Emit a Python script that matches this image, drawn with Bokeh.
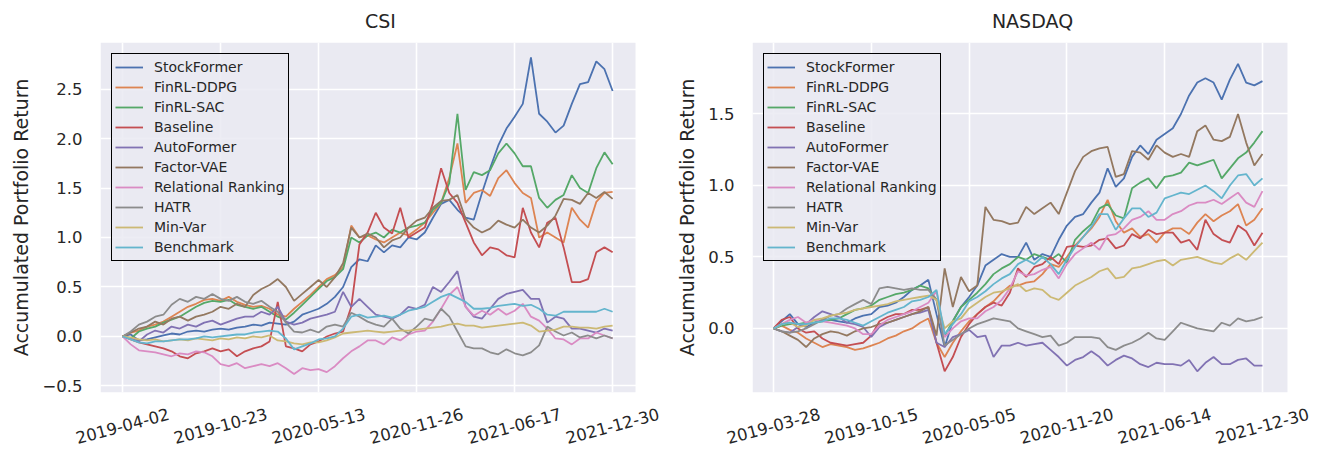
import math
from bokeh.plotting import figure
from bokeh.layouts import row
from bokeh.models import Range1d, FixedTicker, PrintfTickFormatter, BoxAnnotation
from bokeh.embed import file_html
from bokeh.resources import INLINE

# ---------------- data ----------------
steps = list(range(61))  # trading-day index (sampled), ticks every 12 steps

series_names = ["StockFormer", "FinRL-DDPG", "FinRL-SAC", "Baseline", "AutoFormer",
                "Factor-VAE", "Relational Ranking", "HATR", "Min-Var", "Benchmark"]
colors = ["#4C72B0", "#DD8452", "#55A868", "#C44E52", "#8172B3",
          "#937860", "#DA8BC3", "#8C8C8C", "#CCB974", "#64B5CD"]

csi_tick_labels = ["2019-04-02", "2019-10-23", "2020-05-13", "2020-11-26", "2021-06-17", "2021-12-30"]
nasdaq_tick_labels = ["2019-03-28", "2019-10-15", "2020-05-05", "2020-11-20", "2021-06-14", "2021-12-30"]

csi_stockformer = [0.00, 0.02, -0.04, -0.03, -0.01, 0.01, 0.03, 0.02, 0.05, 0.06, 0.05, 0.07, 0.08, 0.07, 0.09, 0.10, 0.12, 0.11, 0.14, 0.13,
                   0.12, 0.15, 0.22, 0.25, 0.28, 0.33, 0.40, 0.50, 0.70, 0.78, 0.76, 0.92, 0.85, 0.92, 0.90, 1.00, 0.98, 1.05, 1.20, 1.34,
                   1.38, 1.28, 1.20, 1.18, 1.45, 1.70, 1.93, 2.10, 2.22, 2.35, 2.82, 2.25, 2.17, 2.06, 2.13, 2.35, 2.55, 2.57, 2.78, 2.70, 2.48]
csi_ddpg = [0.00, 0.04, 0.06, 0.10, 0.12, 0.15, 0.20, 0.25, 0.30, 0.33, 0.37, 0.38, 0.36, 0.40, 0.35, 0.32, 0.30, 0.31, 0.28, 0.22,
            0.20, 0.28, 0.35, 0.42, 0.50, 0.58, 0.62, 0.70, 1.12, 1.00, 1.02, 0.98, 0.95, 1.00, 1.05, 1.02, 1.08, 1.15, 1.25, 1.35,
            1.60, 1.95, 1.35, 1.45, 1.48, 1.42, 1.60, 1.68, 1.55, 1.45, 1.40, 1.00, 1.05, 1.00, 0.95, 1.30, 1.18, 1.10, 1.36, 1.45, 1.46]
csi_sac = [0.00, -0.02, 0.05, 0.08, 0.10, 0.14, 0.17, 0.20, 0.25, 0.30, 0.34, 0.36, 0.35, 0.37, 0.32, 0.30, 0.28, 0.30, 0.25, 0.20,
           0.17, 0.24, 0.32, 0.40, 0.48, 0.56, 0.60, 0.68, 1.00, 0.95, 1.02, 1.05, 1.00, 1.08, 1.05, 1.10, 1.12, 1.15, 1.28, 1.35,
           1.55, 2.25, 1.48, 1.66, 1.63, 1.68, 1.85, 1.95, 1.85, 1.72, 1.72, 1.40, 1.30, 1.38, 1.43, 1.63, 1.50, 1.45, 1.70, 1.86, 1.74]
csi_baseline = [0.00, -0.03, -0.06, -0.08, -0.10, -0.12, -0.15, -0.20, -0.22, -0.17, -0.15, -0.12, -0.15, -0.13, -0.20, -0.15, -0.12, -0.10, -0.05, 0.35,
                -0.10, -0.12, -0.15, -0.08, -0.05, 0.00, 0.03, 0.05, 0.30, 0.93, 1.05, 1.25, 1.10, 1.04, 1.30, 1.00, 1.05, 1.10, 1.35, 1.70,
                1.45, 1.35, 1.15, 0.95, 0.82, 0.90, 0.88, 0.82, 0.80, 1.30, 1.05, 0.90, 1.15, 1.20, 0.90, 0.55, 0.55, 0.58, 0.85, 0.90, 0.85]
csi_autoformer = [0.00, -0.02, -0.05, 0.02, 0.06, 0.04, 0.10, 0.08, 0.12, 0.10, 0.14, 0.16, 0.12, 0.15, 0.18, 0.20, 0.20, 0.25, 0.22, 0.30,
                  0.15, 0.12, 0.14, 0.18, 0.20, 0.22, 0.25, 0.45, 0.30, 0.38, 0.30, 0.22, 0.20, 0.18, 0.22, 0.30, 0.28, 0.32, 0.50, 0.45,
                  0.55, 0.66, 0.30, 0.20, 0.18, 0.28, 0.38, 0.43, 0.45, 0.47, 0.38, 0.38, 0.14, 0.20, 0.18, 0.08, 0.08, 0.06, 0.04, 0.08, 0.06]
csi_factorvae = [0.00, 0.04, 0.08, 0.10, 0.15, 0.12, 0.18, 0.20, 0.16, 0.20, 0.22, 0.25, 0.30, 0.28, 0.33, 0.30, 0.42, 0.48, 0.52, 0.58,
                 0.50, 0.36, 0.43, 0.50, 0.57, 0.50, 0.60, 0.74, 1.10, 1.00, 1.04, 1.00, 0.90, 0.97, 1.00, 1.10, 1.17, 1.20, 1.30, 1.37,
                 1.38, 1.43, 1.19, 1.10, 1.05, 1.09, 1.17, 1.13, 1.10, 1.18, 1.10, 1.05, 1.12, 1.22, 1.39, 1.38, 1.34, 1.45, 1.40, 1.46, 1.39]
csi_relational = [0.00, -0.08, -0.14, -0.15, -0.16, -0.18, -0.20, -0.17, -0.18, -0.15, -0.16, -0.20, -0.28, -0.30, -0.27, -0.32, -0.30, -0.28, -0.30, -0.27,
                  -0.32, -0.38, -0.32, -0.34, -0.33, -0.36, -0.30, -0.22, -0.15, -0.10, -0.04, -0.04, -0.08, -0.01, -0.04, 0.02, 0.05, 0.06, 0.15, 0.28,
                  0.42, 0.50, 0.30, 0.21, 0.26, 0.22, 0.28, 0.22, 0.26, 0.33, 0.20, 0.16, 0.08, -0.02, -0.03, -0.08, -0.02, -0.02, 0.04, 0.01, -0.02]
csi_hatr = [0.00, 0.05, 0.12, 0.15, 0.20, 0.22, 0.32, 0.38, 0.35, 0.40, 0.38, 0.43, 0.38, 0.36, 0.40, 0.35, 0.33, 0.36, 0.30, 0.25,
            0.14, 0.05, 0.04, 0.07, 0.04, 0.10, 0.12, 0.10, 0.24, 0.20, 0.15, 0.12, 0.10, 0.18, 0.08, 0.03, 0.10, 0.18, 0.16, 0.28,
            0.20, 0.05, -0.10, -0.12, -0.12, -0.16, -0.18, -0.13, -0.17, -0.19, -0.16, -0.09, 0.10, 0.05, 0.01, 0.04, -0.01, 0.01, -0.02, 0.01, -0.02]
csi_minvar = [0.00, -0.01, -0.03, -0.04, -0.03, -0.05, -0.04, -0.03, -0.04, -0.02, -0.03, -0.04, -0.02, -0.03, -0.01, -0.02, 0.00, -0.01, 0.01, -0.04,
              -0.05, -0.07, -0.08, -0.06, -0.06, -0.04, -0.01, 0.03, 0.04, 0.05, 0.06, 0.05, 0.04, 0.05, 0.06, 0.06, 0.07, 0.08, 0.09, 0.10,
              0.12, 0.13, 0.11, 0.11, 0.09, 0.10, 0.11, 0.12, 0.13, 0.14, 0.11, 0.05, 0.06, 0.07, 0.10, 0.10, 0.09, 0.09, 0.08, 0.10, 0.11]
csi_benchmark = [0.00, -0.03, -0.06, -0.07, -0.05, -0.05, -0.04, -0.03, -0.03, -0.02, 0.00, -0.01, 0.00, 0.01, 0.02, 0.02, 0.04, 0.05, 0.06, 0.05,
                 -0.02, -0.13, -0.10, -0.07, -0.03, -0.02, 0.00, 0.08, 0.20, 0.22, 0.19, 0.20, 0.21, 0.19, 0.22, 0.26, 0.28, 0.30, 0.35, 0.40,
                 0.43, 0.39, 0.35, 0.28, 0.28, 0.29, 0.31, 0.32, 0.33, 0.31, 0.32, 0.28, 0.22, 0.21, 0.25, 0.25, 0.25, 0.25, 0.25, 0.28, 0.25]

nasdaq_stockformer = [0.00, 0.05, 0.10, 0.03, 0.01, 0.04, 0.06, 0.06, 0.05, 0.04, 0.07, 0.09, 0.10, 0.15, 0.16, 0.18, 0.22, 0.27, 0.30, 0.34,
                      0.10, -0.13, 0.05, 0.15, 0.22, 0.30, 0.44, 0.48, 0.52, 0.50, 0.50, 0.60, 0.48, 0.52, 0.50, 0.62, 0.72, 0.78, 0.80, 0.88,
                      0.95, 1.12, 0.99, 1.05, 1.20, 1.28, 1.22, 1.32, 1.36, 1.40, 1.50, 1.63, 1.72, 1.75, 1.72, 1.60, 1.74, 1.85, 1.72, 1.70, 1.73]
nasdaq_ddpg = [0.00, 0.02, -0.01, -0.03, -0.07, -0.10, -0.13, -0.11, -0.12, -0.13, -0.15, -0.14, -0.12, -0.10, -0.07, -0.05, -0.02, 0.00, 0.04, 0.07,
               -0.10, -0.20, -0.10, -0.02, 0.05, 0.10, 0.15, 0.19, 0.25, 0.30, 0.30, 0.32, 0.33, 0.38, 0.45, 0.43, 0.50, 0.58, 0.64, 0.70,
               0.78, 0.90, 0.75, 0.67, 0.70, 0.64, 0.66, 0.60, 0.67, 0.70, 0.70, 0.66, 0.74, 0.80, 0.75, 0.79, 0.82, 0.87, 0.72, 0.76, 0.84]
nasdaq_sac = [0.00, 0.02, 0.03, 0.03, 0.04, 0.04, 0.05, 0.06, 0.07, 0.10, 0.13, 0.14, 0.16, 0.20, 0.22, 0.24, 0.25, 0.27, 0.30, 0.28,
              0.20, -0.05, 0.05, 0.15, 0.20, 0.25, 0.31, 0.38, 0.42, 0.45, 0.50, 0.48, 0.52, 0.50, 0.48, 0.52, 0.46, 0.62, 0.68, 0.73,
              0.84, 0.87, 0.79, 0.77, 0.98, 1.02, 1.05, 0.98, 1.06, 1.07, 1.09, 1.16, 1.14, 1.16, 1.18, 1.05, 1.12, 1.19, 1.23, 1.30, 1.38]
nasdaq_baseline = [0.00, 0.06, 0.08, 0.00, -0.03, -0.02, -0.07, -0.10, -0.11, -0.12, -0.11, -0.10, -0.05, 0.05, 0.08, 0.10, 0.10, 0.13, 0.13, 0.15,
                   -0.10, -0.30, -0.20, -0.06, 0.03, 0.10, 0.15, 0.18, 0.16, 0.25, 0.42, 0.36, 0.43, 0.45, 0.50, 0.45, 0.57, 0.58, 0.57, 0.58,
                   0.62, 0.63, 0.56, 0.58, 0.66, 0.63, 0.69, 0.66, 0.67, 0.67, 0.60, 0.62, 0.55, 0.76, 0.66, 0.62, 0.60, 0.72, 0.68, 0.58, 0.67]
nasdaq_autoformer = [0.00, -0.02, -0.03, 0.01, 0.03, 0.08, 0.12, 0.10, 0.08, 0.04, 0.03, 0.01, -0.06, 0.01, 0.04, 0.06, 0.08, 0.10, 0.11, 0.13,
                     -0.10, -0.13, -0.06, -0.04, -0.01, -0.06, -0.05, -0.20, -0.12, -0.12, -0.10, -0.12, -0.11, -0.10, -0.15, -0.20, -0.26, -0.22, -0.20, -0.16,
                     -0.20, -0.26, -0.22, -0.19, -0.21, -0.25, -0.27, -0.24, -0.25, -0.25, -0.26, -0.22, -0.30, -0.24, -0.20, -0.25, -0.25, -0.22, -0.21, -0.26, -0.26]
nasdaq_factorvae = [0.00, -0.02, -0.05, -0.08, -0.13, -0.07, -0.04, -0.02, -0.03, -0.05, -0.02, 0.00, 0.01, 0.03, 0.04, 0.06, 0.08, 0.10, 0.12, 0.15,
                    -0.05, 0.42, 0.15, 0.36, 0.26, 0.30, 0.85, 0.76, 0.75, 0.73, 0.74, 0.85, 0.80, 0.84, 0.88, 0.80, 0.95, 1.10, 1.20, 1.24,
                    1.26, 1.27, 1.06, 1.08, 1.24, 1.23, 1.18, 1.28, 1.23, 1.20, 1.22, 1.20, 1.38, 1.42, 1.32, 1.31, 1.34, 1.50, 1.30, 1.14, 1.22]
nasdaq_relational = [0.00, 0.03, 0.06, 0.08, 0.04, 0.06, 0.05, 0.04, 0.03, 0.02, 0.00, -0.04, -0.04, 0.02, 0.06, 0.08, 0.10, 0.12, 0.15, 0.18,
                     0.26, -0.06, 0.00, 0.05, 0.07, 0.07, 0.12, 0.15, 0.20, 0.28, 0.40, 0.37, 0.38, 0.41, 0.43, 0.35, 0.45, 0.52, 0.56, 0.60,
                     0.55, 0.65, 0.66, 0.70, 0.76, 0.78, 0.82, 0.76, 0.76, 0.80, 0.82, 0.86, 0.88, 0.88, 0.90, 0.87, 0.91, 0.95, 0.88, 0.85, 0.96]
nasdaq_hatr = [0.00, -0.02, -0.03, -0.02, 0.00, 0.03, 0.06, 0.09, 0.10, 0.14, 0.17, 0.20, 0.17, 0.28, 0.29, 0.28, 0.27, 0.28, 0.27, 0.27,
               0.20, -0.12, -0.08, -0.04, 0.00, 0.03, 0.05, 0.07, 0.06, 0.05, 0.00, -0.02, -0.04, -0.06, -0.05, -0.12, -0.10, -0.06, -0.06, -0.06,
               -0.07, -0.13, -0.15, -0.12, -0.10, -0.07, -0.03, -0.07, -0.08, -0.02, 0.04, 0.02, 0.00, -0.01, -0.02, 0.04, 0.02, 0.07, 0.05, 0.06, 0.08]
nasdaq_minvar = [0.00, 0.03, 0.04, 0.01, 0.02, 0.06, 0.07, 0.09, 0.10, 0.11, 0.13, 0.14, 0.15, 0.16, 0.17, 0.19, 0.20, 0.21, 0.22, 0.23,
                 0.20, 0.00, 0.05, 0.07, 0.14, 0.18, 0.22, 0.25, 0.26, 0.28, 0.31, 0.26, 0.28, 0.27, 0.22, 0.20, 0.25, 0.30, 0.33, 0.36,
                 0.40, 0.42, 0.35, 0.36, 0.42, 0.43, 0.45, 0.47, 0.48, 0.44, 0.48, 0.49, 0.50, 0.48, 0.46, 0.45, 0.49, 0.52, 0.48, 0.54, 0.60]
nasdaq_benchmark = [0.00, 0.03, 0.04, 0.03, 0.03, 0.04, 0.05, 0.07, 0.07, 0.06, 0.04, 0.02, 0.05, 0.08, 0.11, 0.13, 0.15, 0.19, 0.20, 0.22,
                    0.27, -0.04, 0.03, 0.10, 0.19, 0.22, 0.26, 0.31, 0.35, 0.38, 0.45, 0.48, 0.45, 0.50, 0.45, 0.38, 0.48, 0.57, 0.64, 0.71,
                    0.80, 0.80, 0.69, 0.77, 0.84, 0.84, 0.78, 0.81, 0.91, 0.93, 0.95, 0.94, 0.97, 1.00, 0.96, 0.91, 1.00, 1.07, 1.08, 1.00, 1.05]

csi_series = [csi_stockformer, csi_ddpg, csi_sac, csi_baseline, csi_autoformer,
              csi_factorvae, csi_relational, csi_hatr, csi_minvar, csi_benchmark]
nasdaq_series = [nasdaq_stockformer, nasdaq_ddpg, nasdaq_sac, nasdaq_baseline, nasdaq_autoformer,
                 nasdaq_factorvae, nasdaq_relational, nasdaq_hatr, nasdaq_minvar, nasdaq_benchmark]

csi_yticks = [-0.5, 0.0, 0.5, 1.0, 1.5, 2.0, 2.5]
nasdaq_yticks = [0.0, 0.5, 1.0, 1.5]
xtick_steps = [0, 12, 24, 36, 48, 60]

TEXT = "#262626"
FONT = "DejaVu Sans"
PANEL_BG = "#EAEAF2"
# Bokeh anchors a rotated below-axis label at its right end; matplotlib centres it
# on the tick.  Shift the label anchors right by half the rotated label width.
LABEL_SHIFT = 5.67


def make_panel(title, series, tick_labels, yticks, plot_x, view_x_end, yr, width, border_left, border_right):
    # the frame is a little wider than the shaded axes area so that the last
    # (centred, rotated) date label still lies inside the axis extent
    p = figure(width=width, height=452, output_backend="svg", toolbar_location=None,
               x_range=Range1d(plot_x[0], view_x_end), y_range=Range1d(*yr), title=title,
               min_border_left=border_left, min_border_right=border_right,
               min_border_top=42, min_border_bottom=60)
    p.background_fill_color = "white"
    p.border_fill_color = "white"
    p.outline_line_color = None
    p.add_layout(BoxAnnotation(left=plot_x[0], right=plot_x[1], bottom=yr[0], top=yr[1],
                               fill_color=PANEL_BG, fill_alpha=1.0, line_color=None, level="image"))

    p.title.text_font = FONT
    p.title.text_font_size = "19px"
    p.title.text_font_style = "normal"
    p.title.text_color = TEXT
    p.title.align = "center"
    p.title.vertical_align = "top"
    p.title.standoff = 18

    for ax in (p.xaxis[0], p.yaxis[0]):
        ax.axis_line_color = None
        ax.major_tick_line_color = None
        ax.minor_tick_line_color = None
        ax.major_tick_out = 0
        ax.major_tick_in = 0
        ax.minor_tick_out = 0
        ax.minor_tick_in = 0
        ax.major_label_text_font = FONT
        ax.major_label_text_font_size = "16.5px"
        ax.major_label_text_color = TEXT

    label_pos = [s + LABEL_SHIFT for s in xtick_steps]
    p.xaxis.ticker = FixedTicker(ticks=label_pos)
    p.xaxis.major_label_overrides = {pos: lab for pos, lab in zip(label_pos, tick_labels)}
    p.xaxis.major_label_orientation = math.radians(15)
    p.xaxis.major_label_standoff = 21

    p.yaxis.ticker = FixedTicker(ticks=yticks)
    p.yaxis.formatter = PrintfTickFormatter(format="%.1f")
    p.yaxis.major_label_overrides = {v: ("\u2212%.1f" % abs(v)) for v in yticks if v < 0}
    p.yaxis.major_label_standoff = 18
    p.yaxis.axis_label = "Accumulated Portfolio Return"
    p.yaxis.axis_label_text_font = FONT
    p.yaxis.axis_label_text_font_size = "19px"
    p.yaxis.axis_label_text_font_style = "normal"
    p.yaxis.axis_label_text_color = TEXT
    p.yaxis.axis_label_standoff = 7

    p.grid.grid_line_color = "white"
    p.grid.grid_line_width = 1.6
    p.xgrid.ticker = FixedTicker(ticks=xtick_steps)
    p.ygrid.ticker = FixedTicker(ticks=yticks)

    for name, col, vals in zip(series_names, colors, series):
        p.line(steps, vals, line_color=col, line_width=1.8, legend_label=name)

    lg = p.legend[0]
    lg.location = "top_left"
    lg.margin = 11
    lg.padding = 3
    lg.spacing = 0
    lg.glyph_width = 28
    lg.glyph_height = 20
    lg.label_height = 20
    lg.label_standoff = 11
    lg.label_text_font = FONT
    lg.label_text_font_size = "14px"
    lg.label_text_color = TEXT
    lg.border_line_color = "black"
    lg.border_line_width = 1.5
    lg.border_line_alpha = 1.0
    lg.background_fill_color = PANEL_BG
    lg.background_fill_alpha = 0.85
    return p


# frame: CSI 100..660 px (shaded 100..635), NASDAQ 752..1312 px (shaded 752..1287)
p1 = make_panel("CSI", csi_series, csi_tick_labels, csi_yticks,
                (-2.7, 62.8), 65.86, (-0.566, 2.97), 670, 100, 10)
p2 = make_panel("NASDAQ", nasdaq_series, nasdaq_tick_labels, nasdaq_yticks,
                (-2.58, 63.07), 66.14, (-0.448, 2.0), 657, 82, 15)

layout = row(p1, p2)
open("out.html", "w").write(file_html(layout, INLINE))
